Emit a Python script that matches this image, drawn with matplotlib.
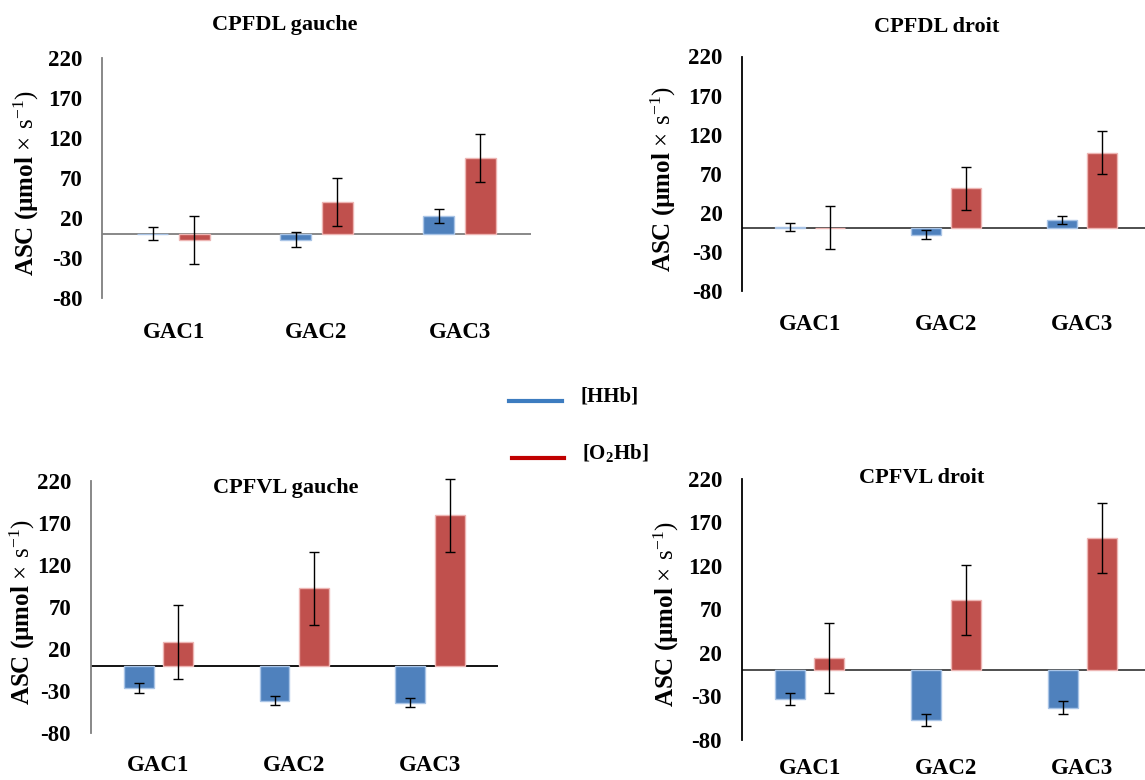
import numpy as np
import matplotlib
matplotlib.use("Agg")
import matplotlib.pyplot as plt

plt.rcParams['font.family'] = ['Liberation Serif', 'DejaVu Serif']
plt.rcParams['mathtext.fontset'] = 'custom'
plt.rcParams['mathtext.rm'] = 'Liberation Serif'
plt.rcParams['mathtext.bf'] = 'Liberation Serif:bold'

# ===== Data =====
groups = ['GAC1', 'GAC2', 'GAC3']
y_ticks = [-80, -30, 20, 70, 120, 170, 220]

titles = ['CPFDL gauche', 'CPFDL droit', 'CPFVL gauche', 'CPFVL droit']

hhb_mean = [[0, -7.5, 22], [1.5, -8, 11], [-26, -41, -43.5], [-33, -57, -43]]
hhb_err = [[8, 9, 8.5], [5, 5.5, 5], [5.6, 5.7, 5.7], [6.7, 7.3, 7.5]]
o2hb_mean = [[-7.5, 40, 95], [1, 51.5, 97], [28, 92.5, 179], [14.5, 81, 151.5]]
o2hb_err = [[30, 30, 30], [27.5, 27.5, 27.5], [44, 43.5, 43], [40, 40, 40]]

# ===== Layout (pixels of the 1145x780 reference) =====
W, H = 1145, 780
# left, top, width, bottom
boxes = [(102, 57.5, 429, 297.5), (742, 56.5, 408, 291), (90.5, 481, 407.5, 733.3), (741.5, 478.6, 409, 740)]
title_pos = [(285, 25), (937, 27), (286, 488), (922, 478)]
ylabel_x = [26, 663, 22, 666]
xpad = [17.8, 16.3, 15.3, 12.8]
spine_col = ['#7f7f7f', '#000000', '#7f7f7f', '#000000']
zero_col = ['#7f7f7f', '#404040', '#000000', '#404040']

blue = '#4F81BD'
red = '#C0504D'

fig = plt.figure(figsize=(W / 100, H / 100), dpi=100)

for i in range(4):
    x0, ytop, w, ybot = boxes[i]
    ax = fig.add_axes([x0 / W, 1 - ybot / H, w / W, (ybot - ytop) / H])
    x = np.arange(len(groups))
    ekw = dict(ecolor='black', elinewidth=1, capsize=3.3, capthick=1)
    b1 = ax.bar(x - 0.145, hhb_mean[i], width=0.22, color=blue, edgecolor='#A9C4E6', linewidth=1,
                yerr=hhb_err[i], error_kw=ekw)
    b2 = ax.bar(x + 0.145, o2hb_mean[i], width=0.22, color=red, edgecolor='#EDB5B3', linewidth=1,
                yerr=o2hb_err[i], error_kw=ekw)
    # let the caps go past the axis limits, like in the original
    for b in (b1, b2):
        for part in b.errorbar.lines:
            if isinstance(part, tuple):
                for p in part:
                    p.set_clip_on(False)
            elif part is not None:
                part.set_clip_on(False)
    ax.axhline(0, color=zero_col[i], linewidth=1.3, zorder=0.5)

    ax.set_xlim(-0.5, 2.5)
    ax.set_ylim(-80, 220)
    ax.set_yticks(y_ticks)
    ax.set_yticklabels([str(t) for t in y_ticks], fontsize=16.5, fontweight='bold')
    ax.set_xticks(x)
    ax.set_xticklabels(groups, fontsize=16.5, fontweight='bold')
    ax.tick_params(axis='both', length=0)
    ax.tick_params(axis='y', pad=14)
    ax.tick_params(axis='x', pad=xpad[i])

    for s in ['top', 'right', 'bottom']:
        ax.spines[s].set_visible(False)
    ax.spines['left'].set_color(spine_col[i])
    ax.spines['left'].set_linewidth(1.3)
    ax.patch.set_alpha(0)

    tx, ty = title_pos[i]
    fig.text(tx / W, 1 - ty / H, titles[i], ha='center', va='center',
             fontsize=16, fontweight='bold')
    cy = (ytop + ybot) / 2 + 5
    fig.text(ylabel_x[i] / W, 1 - cy / H,
             'ASC (µmol $\\mathrm{\\times\\ s^{-1})}$', rotation=90, ha='center', va='center',
             fontsize=18, fontweight='bold')

# ===== Legend (free standing, middle of the figure) =====
fig.add_artist(plt.Line2D([509 / W, 562 / W], [1 - 400.7 / H, 1 - 400.7 / H], color='#3D7CC0', linewidth=3))
fig.add_artist(plt.Line2D([512 / W, 564 / W], [1 - 458 / H, 1 - 458 / H], color='#C00000', linewidth=3))
fig.text(580 / W, 1 - 396 / H, '[HHb]', ha='left', va='center', fontsize=15, fontweight='bold')
fig.text(582 / W, 1 - 454 / H, '[O$_\\mathbf{2}$Hb]', ha='left', va='center', fontsize=15, fontweight='bold')

fig.savefig('out.png', dpi=100)
